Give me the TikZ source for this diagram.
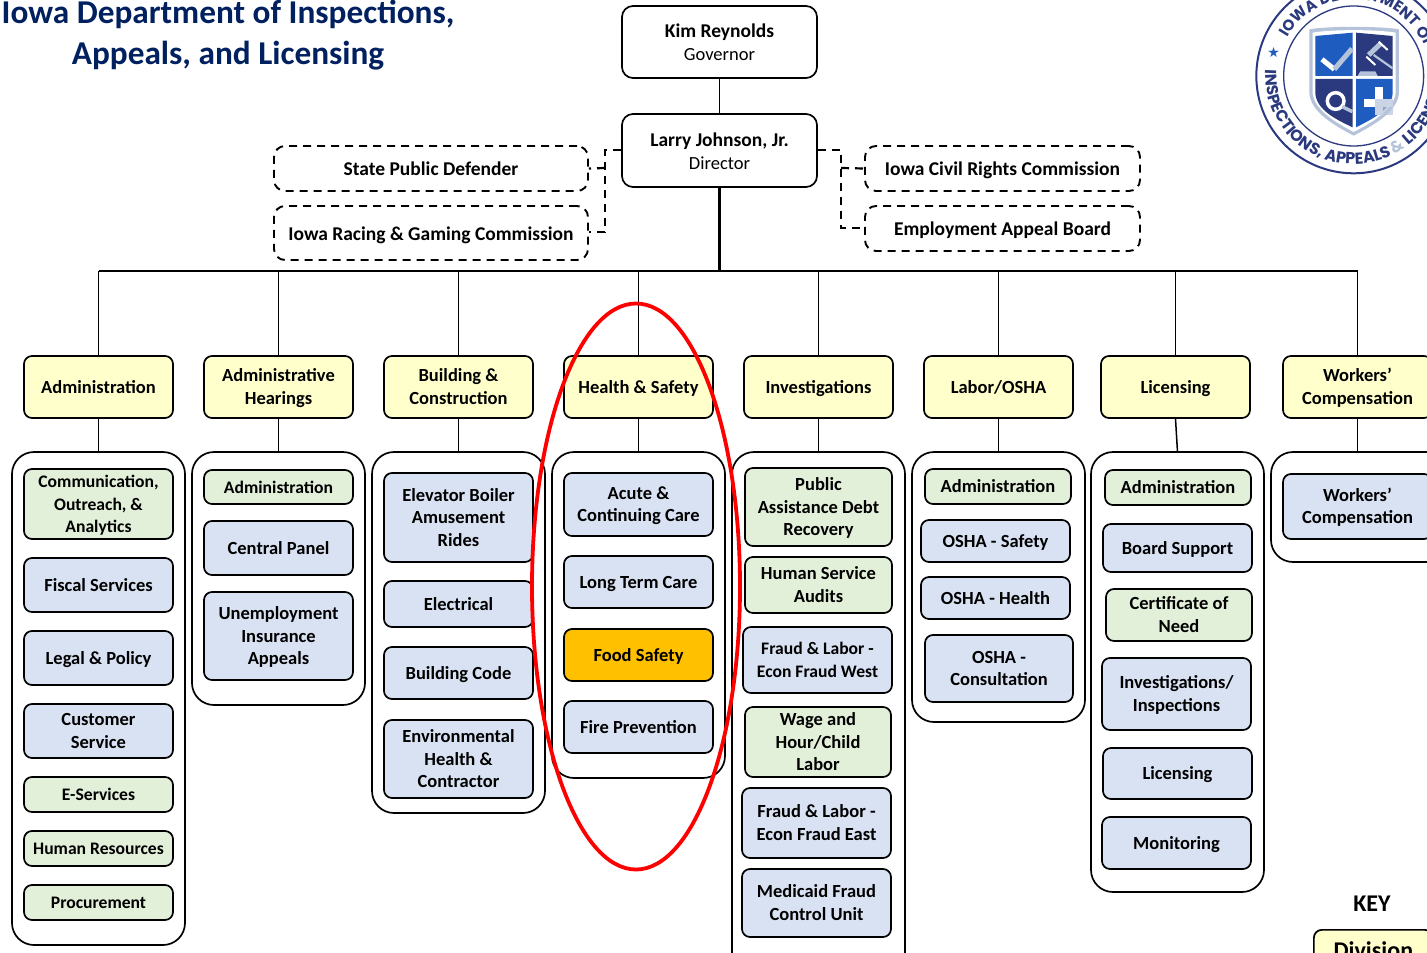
\documentclass[tikz,border=0pt]{standalone}
\usepackage{fontspec}
\setmainfont{Carlito}
\newfontfamily\logofont{Poppins}
\newfontfamily\symfont{DejaVu Sans}
\usetikzlibrary{decorations.text,calc}
\definecolor{divy}{HTML}{FFFFCC}
\definecolor{secb}{HTML}{D9E2F3}
\definecolor{secg}{HTML}{E2EFD9}
\definecolor{gold}{HTML}{FFC000}
\definecolor{navy}{HTML}{002060}
\definecolor{lnavy}{HTML}{2B3A7E}
\definecolor{lblue}{HTML}{1F5CC0}
\definecolor{lpale}{HTML}{B4C3DA}
\newcommand{\lgstyle}{\logofont\bfseries\fontsize{16}{16}\selectfont\color{lnavy}}
\newcommand{\lgamp}{\logofont\bfseries\fontsize{16}{16}\selectfont\color{lpale}}
\newcommand{\lgtop}{\logofont\bfseries\fontsize{15.3}{15.3}\selectfont\color{lnavy}}
\newcommand{\upstrut}{17pt}
\tikzset{
  boxbase/.style={draw=black,line width=1.7pt,rounded corners=8pt,inner sep=0pt,align=center,
     font=\fontsize{18.5}{22.5}\selectfont\bfseries,text=black},
  small text/.style={font=\fontsize{17.6}{22.5}\selectfont\bfseries},
  divbox/.style={boxbase,fill=divy},
  blue box/.style={boxbase,fill=secb},
  green box/.style={boxbase,fill=secg},
  gold box/.style={boxbase,fill=gold},
  lead box/.style={boxbase,fill=white,rounded corners=11pt,font=\fontsize{19.5}{23}\selectfont\bfseries,
     execute at begin node={\def\upstrut{19pt}}},
  dash box/.style={boxbase,fill=white,dash pattern=on 8pt off 6pt,line width=1.9pt,rounded corners=11pt,font=\fontsize{19.5}{23}\selectfont\bfseries,
     execute at begin node={\def\upstrut{19pt}}},
  container/.style={draw=black,line width=1.7pt,rounded corners=22pt,fill=white},
  link/.style={draw=black,line width=1.5pt},
  dash link/.style={draw=black,line width=2.2pt,dash pattern=on 8pt off 6pt},
  title text/.style={font=\fontsize{33.3}{42}\selectfont\bfseries,text=navy,inner sep=0pt,align=center},
}
\newcommand{\bx}[7]{\node[#2,minimum width={#5-#3},minimum height={#6-#4}] (#1) at ({(#3+#5)/2},{(#4+#6)/2}) {\rule{0pt}{\upstrut}#7\rule[-5pt]{0pt}{0pt}};}
\newcommand{\cont}[5]{\draw[container] (#2,#3) rectangle (#4,#5) coordinate (#1);}
\newcommand{\sub}[1]{{\mdseries\fontsize{18.5}{23}\selectfont #1}}
\begin{document}
\begin{tikzpicture}[x=1pt,y=-1pt]
\useasboundingbox (0,0) rectangle (1427,953);
\clip (0,0) rectangle (1427,953);
\fill[white] (0,0) rectangle (1427,953);

% title
\node[title text] (title1) at (228,14) {Iowa Department of Inspections,};
\node[title text] (title2) at (228,56) {Appeals, and Licensing};

% containers
\cont{c1}{12}{452}{185}{945}
\cont{c2}{192}{452}{365}{705}
\cont{c3}{372}{452}{545}{813}
\cont{c4}{552}{452}{725}{778}
\cont{c5}{732}{452}{905}{975}
\cont{c6}{912}{452}{1085}{722}
\cont{c7}{1091}{452}{1264}{892}
\cont{c8}{1271}{452}{1460}{562}

% leadership
\bx{kim}{lead box}{622}{6}{817}{78}{Kim Reynolds\\\sub{Governor}}
\bx{larry}{lead box}{622}{114}{817}{187}{Larry Johnson, Jr.\\\sub{Director}}
\bx{spd}{dash box}{274}{146}{588}{191}{State Public Defender}
\bx{racing}{dash box}{274}{206}{588}{260}{Iowa Racing \& Gaming Commission}
\bx{civil}{dash box}{865}{146}{1140}{191}{Iowa Civil Rights Commission}
\bx{eab}{dash box}{865}{206}{1140}{251}{Employment Appeal Board}

% divisions
\bx{dadm}{divbox}{24}{356}{173}{418}{Administration}
\bx{dah}{divbox}{204}{356}{353}{418}{Administrative\\Hearings}
\bx{dbc}{divbox}{384}{356}{533}{418}{Building \&\\Construction}
\bx{dhs}{divbox}{564}{356}{713}{418}{Health \& Safety}
\bx{dinv}{divbox}{744}{356}{893}{418}{Investigations}
\bx{dlab}{divbox}{924}{356}{1073}{418}{Labor/OSHA}
\bx{dlic}{divbox}{1101}{356}{1250}{418}{Licensing}
\bx{dwc}{divbox}{1283}{356}{1432}{418}{Workers’\\Compensation}

% column 1
\bx{a1}{green box,small text}{24}{469}{173}{539}{Communication,\\Outreach, \&\\Analytics}
\bx{a2}{blue box}{24}{558}{173}{612}{Fiscal Services}
\bx{a3}{blue box}{24}{631}{173}{685}{Legal \& Policy}
\bx{a4}{blue box}{24}{704}{173}{758}{Customer\\Service}
\bx{a5}{green box,small text}{24}{777}{173}{812}{E-Services}
\bx{a6}{green box,small text}{24}{831}{173}{866}{Human Resources}
\bx{a7}{green box,small text}{24}{885}{173}{920}{Procurement}
% column 2
\bx{b1}{green box,small text}{204}{470}{353}{504}{Administration}
\bx{b2}{blue box}{204}{521}{353}{575}{Central Panel}
\bx{b3}{blue box}{204}{592}{353}{680}{Unemployment\\Insurance\\Appeals}
% column 3
\bx{e1}{blue box}{384}{473}{533}{562}{Elevator Boiler\\Amusement\\Rides}
\bx{e2}{blue box}{384}{581}{533}{627}{Electrical}
\bx{e3}{blue box}{384}{647}{533}{699}{Building Code}
\bx{e4}{blue box}{384}{720}{533}{798}{Environmental\\Health \&\\Contractor}
% column 4
\bx{h1}{blue box}{564}{473}{713}{536}{Acute \&\\Continuing Care}
\bx{h2}{blue box}{564}{556}{713}{608}{Long Term Care}
\bx{h3}{gold box}{564}{629}{713}{681}{Food Safety}
\bx{h4}{blue box}{564}{701}{713}{753}{Fire Prevention}
% column 5
\bx{i1}{green box}{745}{468}{892}{546}{Public\\Assistance Debt\\Recovery}
\bx{i2}{green box}{745}{557}{892}{613}{Human Service\\Audits}
\bx{i3}{blue box,small text}{743}{627}{892}{693}{Fraud \& Labor -\\Econ Fraud West}
\bx{i4}{green box}{745}{707}{891}{777}{Wage and\\Hour/Child\\Labor}
\bx{i5}{blue box}{742}{788}{891}{858}{Fraud \& Labor -\\Econ Fraud East}
\bx{i6}{blue box}{742}{869}{891}{937}{Medicaid Fraud\\Control Unit}
% column 6
\bx{l1}{green box}{925}{469}{1071}{504}{Administration}
\bx{l2}{blue box}{921}{520}{1070}{562}{OSHA - Safety}
\bx{l3}{blue box}{921}{577}{1070}{619}{OSHA - Health}
\bx{l4}{blue box}{925}{635}{1073}{702}{OSHA -\\Consultation}
% column 7
\bx{n1}{green box}{1105}{470}{1251}{505}{Administration}
\bx{n2}{blue box}{1103}{524}{1252}{572}{Board Support}
\bx{n3}{green box}{1106}{589}{1252}{641}{Certificate of\\Need}
\bx{n4}{blue box}{1102}{658}{1251}{730}{Investigations/\\Inspections}
\bx{n5}{blue box}{1103}{748}{1252}{799}{Licensing}
\bx{n6}{blue box}{1102}{817}{1251}{869}{Monitoring}
% column 8
\bx{w1}{blue box}{1283}{474}{1432}{539}{Workers’\\Compensation}

% key
\node[font=\fontsize{24}{26}\selectfont\bfseries,inner sep=0pt,text=black] (keylabel) at (1372,904) {KEY};
\node[divbox,font=\fontsize{24}{26}\selectfont\bfseries,minimum width=119,minimum height=40,anchor=north west] (keydiv) at (1313,929) {Division};

% connectors
\coordinate (busl) at (98.5,271);
\coordinate (busr) at (1357.5,271);
\coordinate (busc) at (719.5,271);
\draw[link] (kim.south) -- (larry.north);
\draw[link,line width=3.4pt] (larry.south) -- (busc);
\draw[link,line width=2pt] (busl) -- (busr);
\foreach \d in {dadm,dah,dbc,dhs,dinv,dlab,dlic,dwc}{
  \draw[link] (\d.north) -- (\d.north |- busc);
}
\foreach \d/\c in {dadm/98.5,dah/278.5,dbc/458.5,dhs/638.5,dinv/818.5,dlab/998.5,dwc/1357.5}{
  \coordinate (t\d) at (\c,452);
  \draw[link] (\d.south) -- (t\d);
}
\coordinate (tdlic) at (1177.5,452);
\draw[link] (dlic.south) -- (tdlic);

% dashed connectors
\coordinate (ljoin) at (605,150);
\coordinate (rjoin) at (841,150);
\draw[dash link] (larry.west |- ljoin) -- (ljoin) -- (605,232);
\draw[dash link] (605,232) -- (racing.east |- 0,232);
\draw[dash link] (605,168) -- (spd.east);
\draw[dash link] (larry.east |- rjoin) -- (rjoin) -- (841,228) -- (eab.west |- 0,228);
\draw[dash link] (841,168) -- (civil.west);

% red ellipse
\draw[red,line width=3.8pt] (636,586.5) ellipse [x radius=104,y radius=283];

% logo
\begin{scope}[shift={(1227,0)},x=0.3333pt,y=-0.3333pt]
  \draw[lnavy,line width=2pt] (380,228) circle [x radius=292,y radius=292];
  \draw[lnavy,line width=1.3pt] (380,228) circle [x radius=210,y radius=210];
  \fill[lpale] (247,88) .. controls (300,78) and (460,78) .. (516,88) -- (516,280) .. controls (510,340) and (430,380) .. (380,407) .. controls (330,380) and (252,340) .. (247,280) -- cycle;
  \fill[white] (257,98) .. controls (310,88) and (450,88) .. (506,98) -- (506,280) .. controls (500,330) and (430,370) .. (380,396) .. controls (330,370) and (262,330) .. (257,280) -- cycle;
  \fill[lblue] (265,108) -- (377,98) -- (377,228) -- (265,228) -- cycle;
  \fill[lnavy] (387,98) -- (497,108) -- (497,228) -- (387,228) -- cycle;
  \fill[lnavy] (265,237) -- (377,237) -- (377,382) .. controls (330,360) and (268,330) .. (265,280) -- cycle;
  \fill[lblue] (387,237) -- (497,237) -- (497,280) .. controls (494,330) and (430,360) .. (387,382) -- cycle;
  % check mark
  \draw[white,line width=5pt] (285,178) -- (322,208);
  \draw[lpale,line width=5pt] (322,208) -- (375,146);
  % gavel
  \draw[lpale,line width=2.2pt] (440,165) -- (497,205);
  \draw[lpale,line width=5pt] (425,165) -- (462,130);
  \draw[white,line width=2pt] (418,170) -- (445,195);
  \draw[white,line width=2pt] (455,125) -- (482,150);
  \fill[lpale] (392,228) -- (400,214) -- (445,214) -- (452,228) -- cycle;
  % magnifier
  \draw[white,line width=3.5pt] (326,303) circle [x radius=25,y radius=25];
  \draw[lpale,line width=3.5pt] (346,320) -- (376,335);
  % plus
  \fill[white] (410,296) rectangle (497,320);
  \fill[white] (443,262) rectangle (467,345);
  \fill[lpale,opacity=.7] (443,296) rectangle (497,345);
  % star
  \node[text=lblue,font=\symfont\fontsize{14}{14}\selectfont,inner sep=0pt] (lstar) at (140,157) {★};
\end{scope}
\begin{scope}[shift={(1353.7,76)},x=1pt,y=1pt]
  \path[decorate,decoration={text along path,text align={left},
     text={|\lgstyle|INSPECTIONS, APPEALS |\lgamp|{\&} |\lgstyle|LICENSING}}]
     (176:88) arc [start angle=176,end angle=400,radius=88];
  \path[decorate,decoration={text along path,text align={left},
     text={|\lgtop|IOWA DEPARTMENT OF}}]
     (150:77) arc [start angle=150,end angle=-40,radius=77];
\end{scope}
\end{tikzpicture}
\end{document}
